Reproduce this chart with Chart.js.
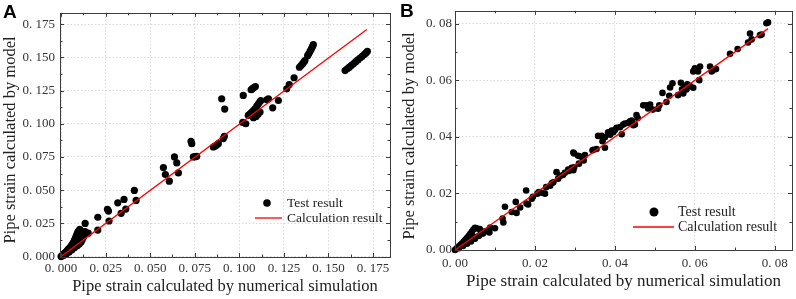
<!DOCTYPE html>
<html><head><meta charset="utf-8">
<script src="https://cdn.jsdelivr.net/npm/chart.js@4.4.0/dist/chart.umd.min.js"></script>
<style>
html,body{margin:0;padding:0;background:#fff;}
#wrap{position:relative;width:796px;height:299px;overflow:hidden;background:#fff;}
.pane{position:absolute;top:0;width:398px;height:299px;}
.lbl{position:absolute;font-family:"Liberation Sans",Arial,sans-serif;font-weight:bold;font-size:19px;line-height:19px;color:#000;}
</style></head><body>
<div id="wrap">
<div class="pane" style="left:0"><canvas id="cA" width="398" height="299"></canvas></div>
<div class="pane" style="left:398px"><canvas id="cB" width="398" height="299"></canvas></div>
<div class="lbl" style="left:3px;top:2px">A</div>
<div class="lbl" style="left:400px;top:1px">B</div>
</div>
<script>
// ---------- data ----------
const seriesNames = ['Test result', 'Calculation result'];
const xTitle = 'Pipe strain calculated by numerical simulation';
const yTitle = 'Pipe strain calculated by model';

const ticksA = [0, 0.025, 0.05, 0.075, 0.1, 0.125, 0.15, 0.175];
const tickLabelsA = ['0. 000', '0. 025', '0. 050', '0. 075', '0. 100', '0. 125', '0. 150', '0. 175'];
const ticksB = [0, 0.02, 0.04, 0.06, 0.08];
const tickLabelsB = ['0. 00', '0. 02', '0. 04', '0. 06', '0. 08'];

const testA = [
[0,0],[0.0004,0.0006],[0.0008,0.001],[0.0012,0.0016],[0.0016,0.002],[0.002,0.0026],[0.0025,0.003],[0.003,0.0038],[0.0035,0.0046],[0.004,0.0054],[0.0045,0.006],[0.005,0.0068],[0.0055,0.0076],[0.006,0.0086],[0.0065,0.0096],[0.007,0.0108],[0.0075,0.0122],[0.008,0.0138],[0.0085,0.0155],[0.009,0.0172],[0.0095,0.0188],[0.0105,0.0205],[0.0112,0.0192],[0.0122,0.0178],[0.0135,0.0188],[0.0152,0.0176],
[0.0015,0.001],[0.003,0.0022],[0.0045,0.0035],[0.006,0.005],[0.0075,0.0066],[0.009,0.0082],[0.0102,0.0095],[0.0112,0.011],[0.0118,0.0125],[0.0125,0.0145],[0.0105,0.0135],[0.0095,0.0112],[0.0082,0.0098],[0.0068,0.0078],[0.0052,0.0055],[0.0038,0.004],
[0.0135,0.025],[0.0206,0.0296],[0.0206,0.020],[0.026,0.0356],[0.0266,0.0343],[0.0269,0.0268],[0.0318,0.0405],[0.0337,0.0326],[0.0353,0.043],[0.0363,0.0358],[0.0411,0.0498],[0.0421,0.0423],[0.0574,0.067],[0.0585,0.0618],[0.0607,0.0568],[0.0636,0.075],[0.0649,0.0705],[0.0658,0.063],[0.0742,0.075],[0.0752,0.0752],[0.0761,0.0755],
[0.0729,0.0868],[0.0733,0.085],[0.0854,0.0825],[0.0862,0.083],[0.0872,0.0838],[0.0882,0.085],[0.091,0.0888],[0.0916,0.0905],[0.0901,0.1188],[0.0918,0.111],[0.1022,0.1213],[0.1019,0.101],[0.1036,0.100],
[0.1066,0.1256],[0.1072,0.1262],[0.1079,0.127],[0.109,0.128],
[0.105,0.1063],[0.106,0.1075],[0.107,0.1088],[0.108,0.11],[0.1088,0.1113],[0.1098,0.1132],[0.1107,0.115],[0.1115,0.1165],[0.112,0.1175],[0.1079,0.1046],[0.1094,0.1055],[0.1105,0.1072],[0.1116,0.1088],
[0.1154,0.118],[0.1163,0.1188],[0.1187,0.112],[0.1219,0.1175],[0.1266,0.1263],[0.128,0.1295],[0.1307,0.1346],
[0.1337,0.1425],[0.1346,0.1438],[0.1355,0.1452],[0.1363,0.1466],[0.1368,0.1476],[0.1383,0.1512],[0.139,0.1528],[0.1397,0.1546],[0.1404,0.1563],[0.141,0.158],[0.1415,0.1595],
[0.1593,0.140],[0.1605,0.1413],[0.1617,0.1426],[0.1629,0.144],[0.1641,0.1453],[0.1653,0.1467],[0.1665,0.148],[0.1677,0.1494],[0.1689,0.1508],[0.17,0.1521],[0.171,0.1533],[0.1718,0.1545]
];
const calcA = [[0, 0], [0.1715, 0.171]];

const testB = [
[0,0],[0.0003,0.0004],[0.0006,0.0008],[0.001,0.0013],[0.0014,0.0018],[0.0018,0.0024],[0.0022,0.003],[0.0026,0.0036],[0.003,0.0042],[0.0034,0.0049],[0.0038,0.0056],[0.0042,0.0064],[0.0046,0.0072],[0.005,0.0078],[0.0056,0.0076],[0.0062,0.0074],
[0.001,0.0006],[0.002,0.0014],[0.003,0.0022],[0.004,0.003],[0.005,0.004],[0.006,0.005],[0.007,0.0058],[0.0075,0.0066],[0.0065,0.006],[0.0045,0.0048],[0.0035,0.0038],
[0.0088,0.0079],[0.01,0.0077],[0.0086,0.0062],[0.0121,0.0097],[0.0125,0.0153],[0.0119,0.0111],[0.0142,0.0134],[0.0152,0.017],[0.0154,0.0131],[0.0163,0.015],[0.0178,0.021],[0.0183,0.0161],[0.0179,0.0164],[0.0192,0.0181],[0.0206,0.0199],[0.0217,0.0202],[0.0225,0.0199],[0.0238,0.0227],[0.0246,0.0239],[0.0254,0.0275],[0.0263,0.0261],[0.0275,0.0273],[0.0283,0.0284],[0.0292,0.029],[0.0296,0.0282],
[0.0195,0.0188],[0.021,0.0205],[0.0228,0.0222],[0.0242,0.0236],[0.0258,0.0252],[0.027,0.0265],[0.0285,0.0279],[0.0298,0.0292],[0.031,0.0305],[0.0322,0.0316],
[0.0298,0.0341],[0.0308,0.0333],[0.0314,0.033],[0.0325,0.0335],[0.0296,0.0344],[0.0344,0.0352],[0.0346,0.0354],[0.0354,0.0357],[0.0358,0.0403],[0.0375,0.0361],[0.0369,0.0384],[0.0367,0.0403],[0.0375,0.0398],[0.0383,0.0416],[0.0388,0.0407],[0.0392,0.0422],[0.0396,0.0416],[0.04,0.0424],[0.0404,0.0432],[0.0413,0.0434],[0.0417,0.0409],[0.0421,0.0443],[0.0425,0.0447],[0.0433,0.0449],[0.0438,0.0455],[0.0442,0.0457],[0.0446,0.0441],[0.045,0.0443],[0.0454,0.0477],[0.0457,0.0466],
[0.0471,0.0511],[0.0479,0.0511],[0.0483,0.05],[0.0488,0.0514],[0.0495,0.0496],[0.0508,0.0499],[0.0511,0.0511],[0.0519,0.0555],[0.0529,0.0523],[0.0536,0.0545],[0.0544,0.0589],[0.0538,0.0574],[0.0565,0.0591],[0.0558,0.0547],[0.0568,0.0568],[0.0571,0.0553],[0.0575,0.0577],[0.0579,0.0567],[0.0581,0.0585],[0.0588,0.0579],[0.0596,0.0631],[0.06,0.0642],[0.0608,0.0631],[0.0613,0.0648],[0.0596,0.0573],[0.0611,0.06],[0.0638,0.0648],[0.0642,0.0631],[0.0646,0.0637],[0.0653,0.0639],[0.0688,0.0693],[0.0707,0.071],[0.0733,0.0733],[0.0738,0.0765],[0.0742,0.0744],[0.0763,0.0759],[0.0767,0.0761],[0.0779,0.0801],[0.0783,0.0804]
];
const calcB = [[0, 0], [0.0783, 0.0782]];

// ---------- helpers ----------
const SERIF = '"Liberation Serif","Times New Roman",serif';
const toXY = a => a.map(p => ({x: p[0], y: p[1]}));

const framePlugin = {
  id: 'frame',
  afterDraw(chart, args, o) {
    const {ctx, chartArea: ca, scales} = chart;
    ctx.save();
    ctx.strokeStyle = '#3c3c3c';
    ctx.lineWidth = 1;
    ctx.strokeRect(Math.round(ca.left) + 0.5, Math.round(ca.top) + 0.5, Math.round(ca.right - ca.left), Math.round(ca.bottom - ca.top));
    // inward ticks (major + minor)
    const tk = o.ticks, step = tk[1] - tk[0];
    const vals = [];
    tk.forEach(v => { vals.push([v, 4]); vals.push([v + step / 2, 2.5]); });
    ctx.beginPath();
    vals.forEach(([v, len]) => {
      const px = Math.round(scales.x.getPixelForValue(v)) + 0.5;
      if (px > ca.left + 1 && px < ca.right - 1) {
        ctx.moveTo(px, ca.bottom); ctx.lineTo(px, ca.bottom - len);
        ctx.moveTo(px, ca.top); ctx.lineTo(px, ca.top + len);
      }
      const py = Math.round(scales.y.getPixelForValue(v)) + 0.5;
      if (py > ca.top + 1 && py < ca.bottom - 1) {
        ctx.moveTo(ca.left, py); ctx.lineTo(ca.left + len, py);
        ctx.moveTo(ca.right, py); ctx.lineTo(ca.right - len, py);
      }
    });
    ctx.stroke();
    // y-axis title
    const T = o.ytitle;
    ctx.save();
    ctx.translate(T.x, T.y);
    ctx.rotate(-Math.PI / 2);
    ctx.fillStyle = '#222';
    ctx.font = T.fs + 'px ' + SERIF;
    ctx.textAlign = 'center';
    ctx.textBaseline = 'middle';
    ctx.fillText(yTitle, 0, 0);
    ctx.restore();
    // legend
    const L = o.legend;
    ctx.fillStyle = '#000';
    ctx.beginPath(); ctx.arc(L.mx, L.my, L.mr, 0, Math.PI * 2); ctx.fill();
    ctx.strokeStyle = '#ff0000'; ctx.lineWidth = 1.3;
    ctx.beginPath(); ctx.moveTo(L.lx1, L.ly); ctx.lineTo(L.lx2, L.ly); ctx.stroke();
    ctx.fillStyle = '#222';
    ctx.font = L.fs + 'px ' + SERIF;
    ctx.textBaseline = 'middle';
    ctx.textAlign = 'left';
    ctx.fillText(seriesNames[0], L.tx, L.my);
    ctx.fillText(seriesNames[1], L.tx, L.ly);
    ctx.restore();
  }
};

function makeChart(id, test, calc, cfg) {
  const axis = (min, max, side, titlePad, titleSize, tickPad, fit) => ({
    type: 'linear', min, max,
    afterBuildTicks: s => { s.ticks = cfg.ticks.map(v => ({value: v})); },
    afterFit: s => { if (side === 'x') s.height = fit; else s.width = fit; },
    grid: {color: '#d9d9d9', lineWidth: 1, drawTicks: false},
    border: {display: false, dash: [1.5, 2]},
    ticks: {
      color: '#333', padding: tickPad, font: {family: SERIF, size: 13},
      maxRotation: 0, autoSkip: false,
      callback: (v) => { const i = cfg.ticks.findIndex(t => Math.abs(t - v) < 1e-9); return i >= 0 ? cfg.labels[i] : ''; }
    },
    title: {display: side === 'x', text: xTitle, color: '#222',
      font: {family: SERIF, size: titleSize}, padding: titlePad}
  });
  return new Chart(document.getElementById(id), {
    type: 'scatter',
    data: {datasets: [
      {label: seriesNames[0], data: toXY(test), backgroundColor: '#000', borderColor: '#000',
        pointRadius: cfg.r, pointHoverRadius: cfg.r, borderWidth: 0, clip: false, order: 1},
      {type: 'line', label: seriesNames[1], data: toXY(calc), borderColor: '#ff0000', borderWidth: 1.3,
        pointRadius: 0, fill: false, tension: 0, order: 0}
    ]},
    options: {
      responsive: false, animation: false, devicePixelRatio: 1,
      layout: {padding: cfg.pad},
      plugins: {legend: {display: false}, tooltip: {enabled: false},
        frame: {ticks: cfg.ticks, legend: cfg.legend, ytitle: cfg.ytitle}},
      scales: {
        x: axis(cfg.xmin, cfg.xmax, 'x', cfg.xtp, cfg.xts, cfg.xkp, cfg.xh),
        y: axis(cfg.ymin, cfg.ymax, 'y', 0, cfg.yts, cfg.ykp, cfg.yw)
      }
    },
    plugins: [framePlugin]
  });
}

makeChart('cA', testA, calcA, {
  ticks: ticksA, labels: tickLabelsA, r: 3.6,
  xmin: -0.0006, xmax: 0.1845, ymin: -0.0003, ymax: 0.1835,
  pad: {left: 0, right: 8, top: 12, bottom: 0},
  xh: 42, yw: 60, xtp: {top: 2, bottom: 2}, xts: 16.5, xkp: 4, ykp: 5,
  ytitle: {x: 11, y: 140, fs: 16.5},
  legend: {mx: 267, my: 203, mr: 3.8, lx1: 255, lx2: 282, ly: 218, tx: 287, fs: 13.5}
});
makeChart('cB', testB, calcB, {
  ticks: ticksB, labels: tickLabelsB, r: 3.3,
  xmin: 0, xmax: 0.0843, ymin: 0, ymax: 0.0845,
  pad: {left: 0, right: 4, top: 2, bottom: 0},
  xh: 49, yw: 57, xtp: {top: 2, bottom: 7}, xts: 17, xkp: 6, ykp: 3,
  ytitle: {x: 12, y: 136, fs: 16.5},
  legend: {mx: 256, my: 212, mr: 4.5, lx1: 235, lx2: 276, ly: 227, tx: 280, fs: 14}
});
</script>
</body></html>
